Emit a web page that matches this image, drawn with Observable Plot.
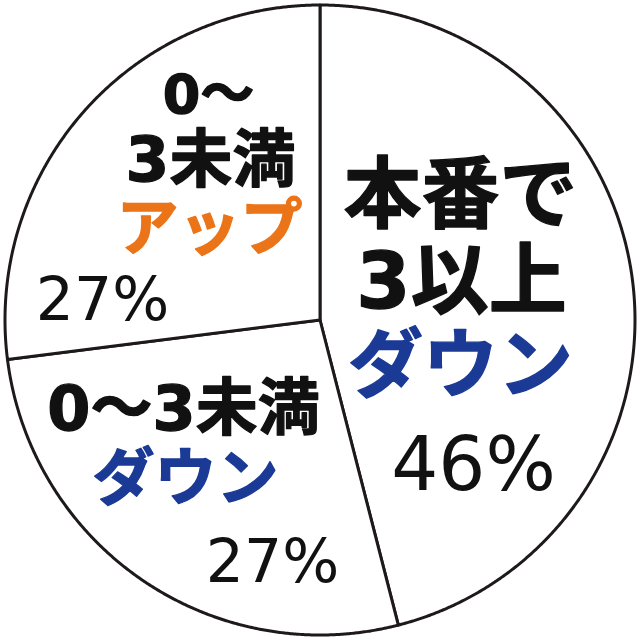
<!DOCTYPE html>
<html><head><meta charset="utf-8">
<script src="https://cdn.jsdelivr.net/npm/d3@7"></script>
<script src="https://cdn.jsdelivr.net/npm/@observablehq/plot@0.6"></script>
<style>html,body{margin:0;padding:0;background:#fff}</style>
</head><body><div id="chart"></div>
<script>
// ---- data ----
const categories = ["本番で3以上ダウン", "0～3未満ダウン", "0～3未満アップ"];
const values = [46, 27, 27];
const percentLabels = ["46%", "27%", "27%"];
const labelLines = [
  ["本番で", "3以上", "ダウン"],
  ["0～3未満", "ダウン"],
  ["0～", "3未満", "アップ"]
];

// ---- styles / layout (pixel centres of each text line) ----
const colorKeys = [
  ["black", "black", "blue"],
  ["black", "blue"],
  ["black", "black", "orange"]
];
const palette = {black: "#111111", blue: "#1a3a96", orange: "#ec7418"};
const lineLayout = [
  [[460, 197, 78], [461, 283, 78], [460, 366, 75]],
  [[183, 410, 62], [185, 480, 62]],
  [[208, 95, 54], [210, 160, 63], [209, 230, 62]]
];
const pctLayout = [[473, 466, 74], [272, 562, 60], [102, 300, 60]];

const CX = 319.5, CY = 319.5, R = 315;
const toX = px => (px - CX) / R;
const toY = py => (CY - py) / R;

// ---- pie geometry via d3.pie ----
const arcs = d3.pie().sort(null).startAngle(0).endAngle(2 * Math.PI)(values);
const pts = [];
arcs.forEach((a, i) => {
  pts.push({cat: categories[i], x: 0, y: 0});
  const n = Math.max(2, Math.ceil((a.endAngle - a.startAngle) / 0.005));
  for (let k = 0; k <= n; k++) {
    const t = a.startAngle + (a.endAngle - a.startAngle) * k / n;
    pts.push({cat: categories[i], x: Math.sin(t), y: Math.cos(t)});
  }
});

const jpFont = "'DejaVu Sans', 'Noto Sans CJK JP', sans-serif";
const numFont = "'DejaVu Sans', 'Liberation Sans', Arial, sans-serif";

const textMarks = [];
labelLines.forEach((lines, i) => {
  lines.forEach((t, j) => {
    const [px, py, fs] = lineLayout[i][j];
    const col = palette[colorKeys[i][j]];
    textMarks.push(Plot.text([{t}], {
      x: () => toX(px), y: () => toY(py), text: "t",
      fill: col, stroke: col, strokeWidth: 1.3, fontSize: fs, fontWeight: 700,
      fontFamily: jpFont, textAnchor: "middle", lineAnchor: "middle"
    }));
  });
  const [px, py, fs] = pctLayout[i];
  textMarks.push(Plot.text([{t: percentLabels[i]}], {
    x: () => toX(px), y: () => toY(py), text: "t",
    fill: "#111111", fontSize: fs, fontWeight: 400,
    fontFamily: numFont, textAnchor: "middle", lineAnchor: "middle"
  }));
});

const chart = Plot.plot({
  width: 640, height: 640, margin: 0,
  style: {background: "#fff", overflow: "visible"},
  x: {domain: [-1, 1], range: [CX - R, CX + R], axis: null},
  y: {domain: [-1, 1], range: [CY + R, CY - R], axis: null},
  marks: [
    Plot.line(pts, {x: "x", y: "y", z: "cat", fill: "white", stroke: "#1e1a1a",
      strokeWidth: 3, curve: "linear-closed", strokeLinejoin: "round"}),
    ...textMarks
  ]
});
document.getElementById("chart").appendChild(chart);
</script>
</body></html>
